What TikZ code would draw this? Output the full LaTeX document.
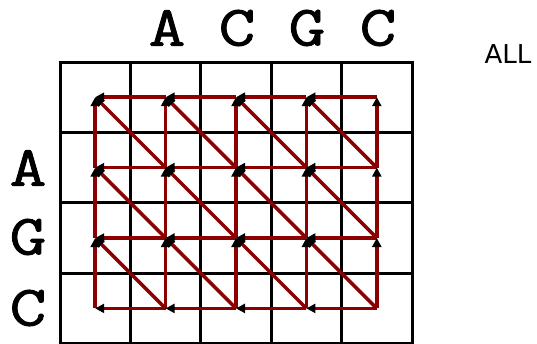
\documentclass[tikz,border=0pt]{standalone}
\usepackage{fontspec}
\newfontfamily\sansall{DejaVu Sans}
\newfontfamily\seqfont[FakeBold=1.5,FakeStretch=1.25]{Latin Modern Mono}
\usetikzlibrary{arrows.meta}
\definecolor{tracered}{RGB}{139,0,0}
\begin{document}
\begin{tikzpicture}[x=1pt,y=-1pt,
  gridline/.style={line width=3pt,black},
  trace/.style={line width=3.5pt,draw=tracered,-{Triangle[length=9pt,width=9pt,black,fill=black]}},
  seqletter/.style={font=\fontsize{57}{57}\selectfont\seqfont,inner sep=0pt},
]
\useasboundingbox (0,0) rectangle (537,343);
% grid
\foreach \i in {0,...,5} {\draw[gridline] (60+70.4*\i,62) -- (60+70.4*\i,346);}
\foreach \j in {0,...,4} {\draw[gridline] (58.5,62+70.4*\j) -- (413.5,62+70.4*\j);}
% cell centres
\foreach \c in {0,...,4} {\foreach \r in {0,...,3} {\coordinate (n\c\r) at (95.2+70.4*\c,97.2+70.4*\r);}}
% traceback arrows
\foreach \c in {0,...,4} {\foreach \r in {0,...,3} {
  \pgfmathtruncatemacro{\pc}{\c-1}\pgfmathtruncatemacro{\pr}{\r-1}
  \ifnum\c>0 \draw[trace] (n\c\r) -- (n\pc\r); \fi
  \ifnum\r>0 \draw[trace] (n\c\r) -- (n\c\pr); \fi
  \ifnum\c>0 \ifnum\r>0 \draw[trace] (n\c\r) -- (n\pc\pr); \fi\fi
}}
% sequences
\node[seqletter] (t1) at (167,28) {A};
\node[seqletter] (t2) at (237,28) {C};
\node[seqletter] (t3) at (307,28) {G};
\node[seqletter] (t4) at (378,28) {C};
\node[seqletter] (l1) at (28,168) {A};
\node[seqletter] (l2) at (28,237) {G};
\node[seqletter] (l3) at (28,308) {C};
\node[font=\fontsize{26}{26}\selectfont\sansall,inner sep=0pt] (all) at (508,54) {ALL};
\end{tikzpicture}
\end{document}
